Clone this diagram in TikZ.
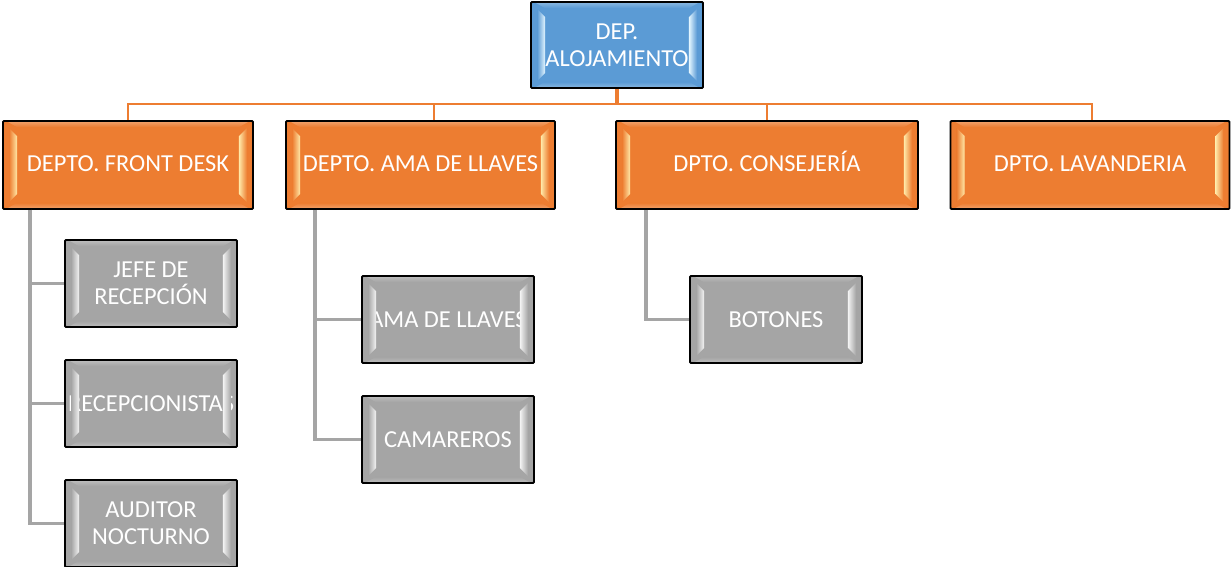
\documentclass[tikz,border=0pt]{standalone}
\usepackage{fontspec}
\setmainfont{Carlito}
\usetikzlibrary{calc}

\definecolor{orng}{HTML}{ED7D31}
\definecolor{blu}{HTML}{5B9BD5}
\definecolor{gry}{HTML}{A5A5A5}
\definecolor{orngHi}{HTML}{FFE9A8}
\definecolor{bluHi}{HTML}{E4F6FF}
\definecolor{gryHi}{HTML}{F4F4F4}

\tikzset{
  box/.style={draw=black, line width=1.8pt, fill=#1, text=white,
    align=center, inner sep=0pt, rounded corners=1pt,
    font=\fontsize{24.4}{27}\selectfont},
  topbox/.style={box=blu, minimum width=172pt, minimum height=86pt},
  deptbox/.style={box=orng, minimum height=88pt, text height=16pt, text depth=4pt},
  staffbox/.style={box=gry, minimum width=172pt, minimum height=87pt},
  oline/.style={draw=orng, line width=2.6pt},
  gline/.style={draw=gry, line width=3.4pt},
}

% soft bevel strips along the inner edges of a box
\newcommand\bevelstrips[3]{%
  \shade[left color=#2, right color=#3]
    ($(#1.north west)+(7,8)$) -- ($(#1.north west)+(15,16)$) --
    ($(#1.south west)+(15,-16)$) -- ($(#1.south west)+(7,-8)$) -- cycle;
  \shade[left color=#3, right color=#2]
    ($(#1.north east)+(-15,16)$) -- ($(#1.north east)+(-7,8)$) --
    ($(#1.south east)+(-7,-8)$) -- ($(#1.south east)+(-15,-16)$) -- cycle;
  \shade[top color=white!30!#2, bottom color=#2, opacity=0.8]
    ($(#1.north west)+(6,2)$) -- ($(#1.north east)+(-6,2)$) --
    ($(#1.north east)+(-15,7)$) -- ($(#1.north west)+(15,7)$) -- cycle;
  \shade[top color=#2, bottom color=white!30!#2, opacity=0.8]
    ($(#1.south west)+(15,-7)$) -- ($(#1.south east)+(-15,-7)$) --
    ($(#1.south east)+(-6,-2)$) -- ($(#1.south west)+(6,-2)$) -- cycle;
}

\begin{document}
\begin{tikzpicture}[x=1pt, y=-1pt]
  \useasboundingbox (0,0) rectangle (1231,566);

  % head of the department
  \node[topbox] (top) at (617,45) {DEP.\\ALOJAMIENTO};

  % departments
  \node[deptbox, minimum width=250pt] (fd)   at (128,165)    {DEPTO. FRONT DESK};
  \node[deptbox, minimum width=269pt] (ama)  at (420.5,165)  {DEPTO. AMA DE LLAVES};
  \node[deptbox, minimum width=302pt] (cons) at (767,165)    {DPTO. CONSEJERÍA};
  \node[deptbox, minimum width=279pt] (lav)  at (1090,165)   {DPTO. LAVANDERIA};

  % staff
  \node[staffbox] (jefe)  at (151,283.5) {JEFE DE\\RECEPCIÓN};
  \node[staffbox] (recep) at (151,403.5) {RECEPCIONISTAS};
  \node[staffbox] (audit) at (151,523.5) {AUDITOR\\NOCTURNO};
  \node[staffbox] (amall) at (448,319.5) {AMA DE LLAVES};
  \node[staffbox] (cam)   at (448,439.5) {CAMAREROS};
  \node[staffbox] (bot)   at (776,319.5) {BOTONES};

  % bevel highlights
  \bevelstrips{top}{blu}{bluHi}
  \foreach \n in {fd,ama,cons,lav} {\bevelstrips{\n}{orng}{orngHi}}
  \foreach \n in {jefe,recep,audit,amall,cam,bot} {\bevelstrips{\n}{gry}{gryHi}}

  % orange bus from the head to the departments
  \coordinate (bus) at (617,104);
  \draw[oline, line width=3.2pt] (top.south) -- (bus);
  \draw[oline] (bus) -| (fd.north);
  \draw[oline] (bus) -| ([xshift=13.5pt]ama.north);
  \draw[oline] (bus) -| (cons.north);
  \draw[oline] (bus) -| ([xshift=2pt]lav.north);

  % grey spines to the staff
  \coordinate (fdspine)   at ($(fd.south west)+(28,0)$);
  \coordinate (amaspine)  at ($(ama.south west)+(30,0)$);
  \coordinate (consspine) at ($(cons.south west)+(31,0)$);
  \draw[gline] (fdspine) |- (jefe.west);
  \draw[gline] (fdspine) |- (recep.west);
  \draw[gline] (fdspine) |- (audit.west);
  \draw[gline] (amaspine) |- (amall.west);
  \draw[gline] (amaspine) |- (cam.west);
  \draw[gline] (consspine) |- (bot.west);
\end{tikzpicture}
\end{document}
